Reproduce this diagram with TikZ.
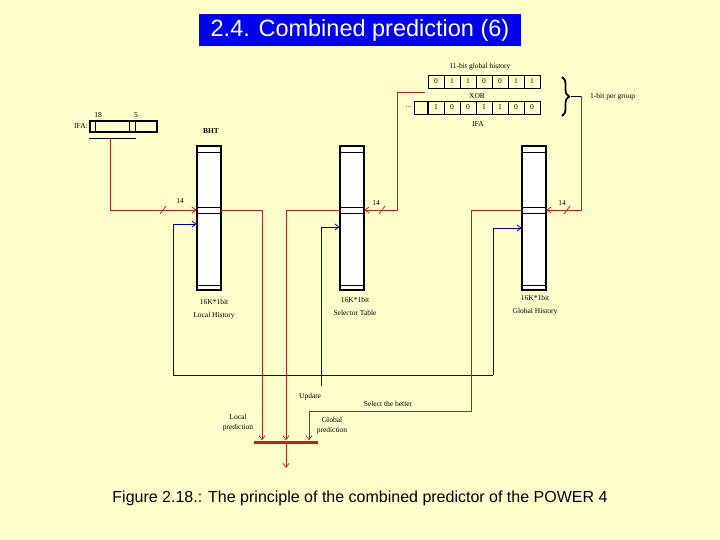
\documentclass[tikz,border=0pt]{standalone}
\usepackage{fontspec}
\setmainfont{Liberation Serif}
\setsansfont{Liberation Sans}
\usetikzlibrary{arrows.meta,positioning,calc,decorations.pathreplacing}
\definecolor{PaleYellow}{RGB}{255,255,204}
\definecolor{TitleBlue}{RGB}{0,0,238}
\definecolor{WireRed}{RGB}{175,40,30}
\definecolor{WireBlue}{RGB}{0,0,150}

\begin{document}
\begin{tikzpicture}[
  x=1pt,y=-1pt,
  >={Straight Barb[length=4pt,width=6pt]},
  lbl/.style={font=\fontsize{7.5}{10}\selectfont,inner sep=0pt,align=center},
  tabcap/.style={lbl,font=\fontsize{7.5}{13}\selectfont},
  bitcell/.style={draw,line width=0.8pt,minimum width=16pt,minimum height=13pt,inner sep=0pt,font=\fontsize{7.5}{8}\selectfont},
  bhtable/.style={draw,line width=1.8pt,fill=white,minimum width=24pt,minimum height=144pt,inner sep=0pt},
  idxrow/.style={draw,line width=0.8pt,minimum width=24pt,minimum height=6pt,inner sep=0pt},
  wire/.style={WireRed,line width=0.8pt},
  upd/.style={WireBlue,line width=0.8pt}
]
% background
\fill[PaleYellow] (0,0) rectangle (720,540);
\useasboundingbox (0,0) rectangle (720,540);

% title
\node[fill=TitleBlue,text=white,font=\sffamily\fontsize{23.5}{26}\selectfont,minimum width=322pt,minimum height=32pt,inner sep=0pt] (title) at (360,30) {2.4. Combined prediction (6)};

% global history xor IFA
\node[lbl] (ghlbl) at (480,67) {11-bit global history};
\foreach \b [count=\i] in {0,1,1,0,0,1,1}
  \node[bitcell] (gh\i) at (420+16*\i,81.5) {\b};
\node[lbl] (xor) at (477,96) {XOR};
\foreach \b [count=\i] in {1,0,0,1,1,0,0}
  \node[bitcell] (ia\i) at (420+16*\i,107.5) {\b};
\node[bitcell,minimum width=13pt,anchor=east] (ia0) at (ia1.west) {};
\node[lbl,anchor=east] (dots) at ([xshift=-2pt]ia0.west) {...};
\node[lbl] (ialbl) at (478,124) {IFA};
\draw[decorate,decoration={brace,amplitude=7pt},line width=1.8pt] (562,77) -- (562,116);
\coordinate (bracetip) at (571,96);
\coordinate (gturn) at (581,96);
\node[lbl,anchor=west] (grouplbl) at (590,97) {1-bit per group};
\coordinate (xortap) at (425,92);
\coordinate (xturn) at (397,92);

% IFA register
\node[lbl,anchor=east] (ifatag) at (88,126) {IFA:};
\node[draw,line width=1.4pt,minimum width=67pt,minimum height=11pt,inner sep=0pt] (ifa) at (123.5,126.5) {};
\draw[line width=0.8pt] ($(ifa.north west)+(6,0)$) -- ($(ifa.south west)+(6,0)$);
\draw[line width=0.8pt] ($(ifa.north west)+(40,0)$) -- ($(ifa.south west)+(40,0)$);
\draw[line width=0.8pt] ($(ifa.north west)+(46,0)$) -- ($(ifa.south west)+(46,0)$);
\node[lbl] (hibit) at (98,115) {18};
\node[lbl] (lobit) at (136,115) {5};
\coordinate (ifal) at (89,138);
\coordinate (ifar) at (136,138);
\coordinate (ifatap) at (110,138);
\draw[line width=0.8pt] (ifal) -- (ifar);

\node[lbl,font=\fontsize{7.5}{8}\selectfont\bfseries] (bht) at (211,131) {BHT};

% tables
\foreach \n/\x in {loc/209,sel/352,glob/534}{
  \node[bhtable] (\n) at (\x,218) {};
  \node[idxrow] (\n-idx) at (\x,210) {};
  \draw[line width=0.8pt] ($(\n.north west)+(0,7)$) -- ($(\n.north east)+(0,7)$);
  \draw[line width=0.8pt] ($(\n.south west)+(0,-6)$) -- ($(\n.south east)+(0,-6)$);
}
\node[tabcap] (loccap) at (214,309.5) {16K*1bit\\Local History};
\node[tabcap] (selcap) at (355,306.5) {16K*1bit\\Selector Table};
\node[tabcap] (globcap) at (535,305.5) {16K*1bit\\Global History};

% index wires
\draw[wire,->] (ifatap) |- (loc-idx.west);
\draw[wire,->] (xortap) -- (xturn) |- (sel-idx.east);
\draw[line width=0.8pt] (bracetip) -- (gturn);
\draw[wire,->] (gturn) |- (glob-idx.east);
\foreach \sx in {163,382,567}
  \draw[wire] (\sx-3,214) -- (\sx+3,206);
\node[lbl] (w1) at (180,201) {14};
\node[lbl] (w2) at (376,203) {14};
\node[lbl] (w3) at (562,203) {14};

% update wires
\coordinate (updl) at (173,375);
\coordinate (upds) at (321,375);
\coordinate (updr) at (493,375);
\coordinate (updend) at (321,386);
\draw[upd] (updl) -- (updr);
\draw[upd,->] (updl) |- ([yshift=-14pt]loc-idx.west);
\draw[upd,->] (updend) |- ([yshift=-17pt]sel-idx.west);
\draw[upd,->] (updr) |- ([yshift=-18pt]glob-idx.west);
\node[lbl] (update) at (310,397) {Update};

% predictions
\node[fill=WireRed,minimum width=64pt,minimum height=3pt,inner sep=0pt] (bar) at (286,442) {};
\coordinate (gsel) at (471,411);
\coordinate (out) at (286,468);
\draw[wire,->] (loc-idx.east) -| ([xshift=-24pt]bar.north);
\draw[wire,->] (sel-idx.west) -| (bar.north);
\draw[wire,->] (glob-idx.west) -| (gsel) -| ([xshift=23pt]bar.north);
\draw[wire,->] (bar.south) -- (out);
\node[lbl] (sellbl) at (388,404) {Select the better};
\node[lbl] (locpred) at (238,423) {Local\\prediction};
\node[lbl] (globpred) at (332,426) {Global\\prediction};

% caption
\node[font=\sffamily\fontsize{16}{19}\selectfont] (caption) at (360,498) {Figure 2.18.: The principle of the combined predictor of the POWER 4};
\end{tikzpicture}
\end{document}
